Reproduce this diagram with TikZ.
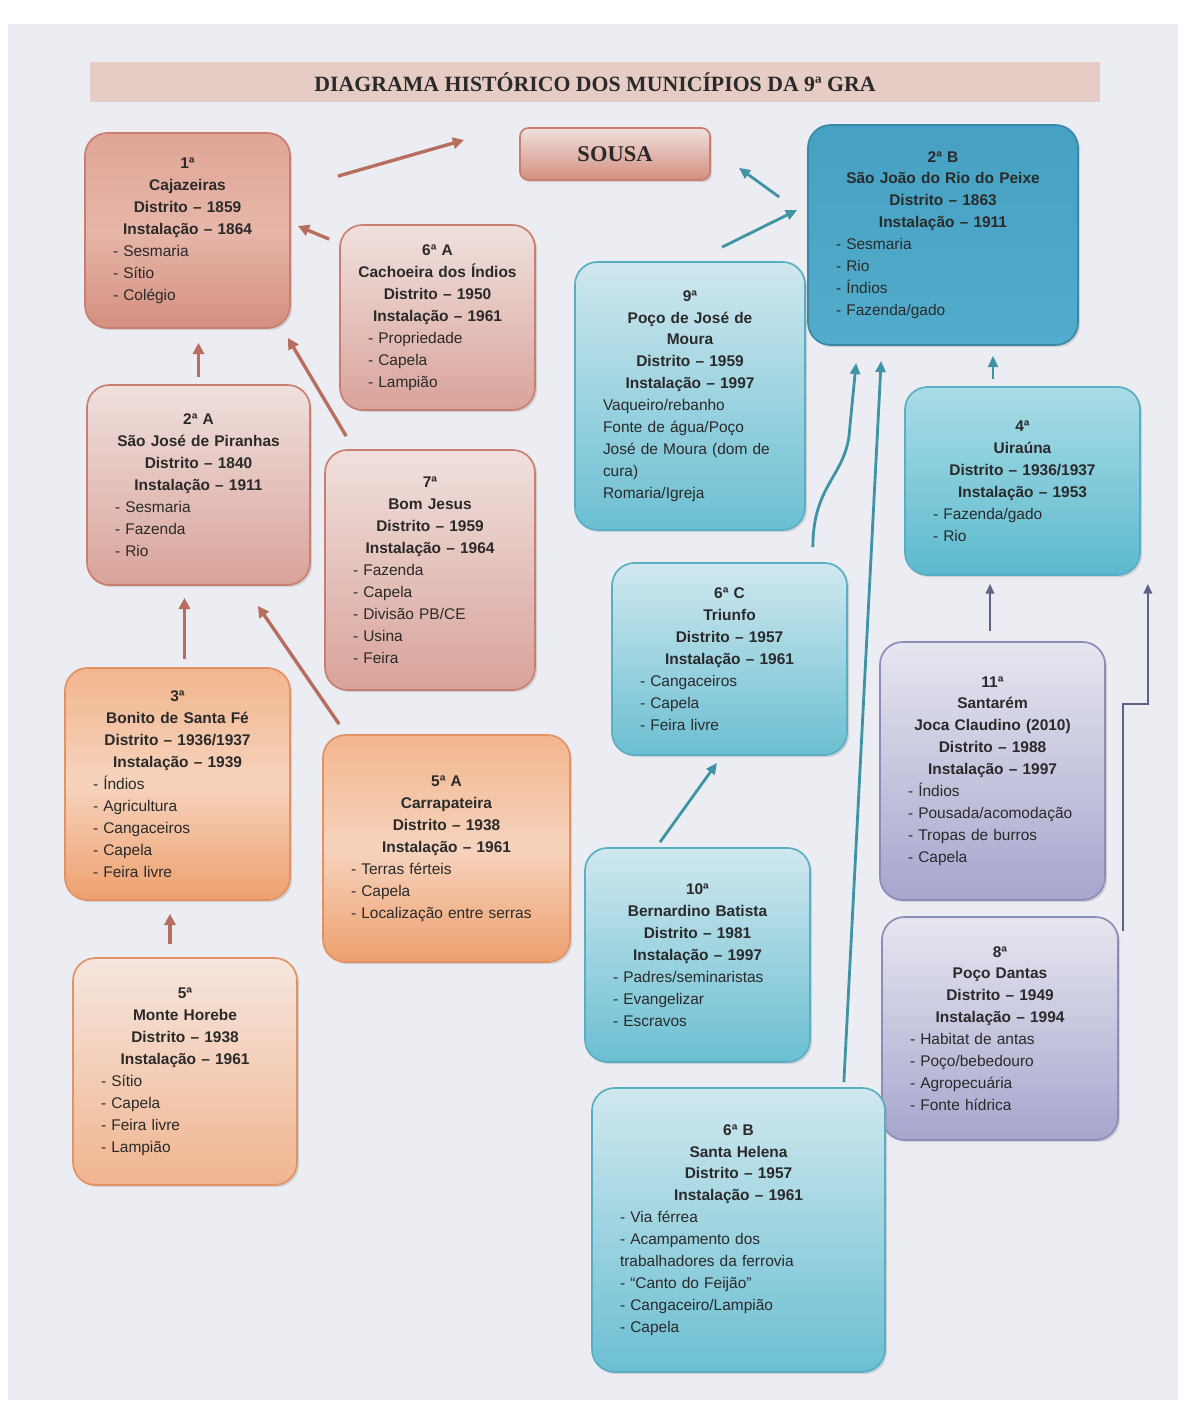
\documentclass[tikz,border=0pt]{standalone}
\usepackage{fontspec}
\setmainfont{Liberation Sans}
\newfontfamily\titlefont{Liberation Serif}
\usepackage{tikz}
\usetikzlibrary{arrows.meta,calc,shadows}
\definecolor{paper}{HTML}{ECEDF2}
\definecolor{textgray}{HTML}{2A2A2A}
\definecolor{titlepink}{HTML}{E6CCC4}
\definecolor{cajtop}{HTML}{E0A596}
\definecolor{cajmid}{HTML}{E6B6A8}
\definecolor{cajbot}{HTML}{D48F7F}
\definecolor{redtop}{HTML}{F0E0DD}
\definecolor{redbot}{HTML}{D9A39A}
\definecolor{redline}{HTML}{C97F70}
\definecolor{orgtop}{HTML}{F2B68E}
\definecolor{orgmid}{HTML}{F6D3BD}
\definecolor{orgbot}{HTML}{EEA06E}
\definecolor{orgline}{HTML}{E39264}
\definecolor{paletop}{HTML}{F6E6DF}
\definecolor{palebot}{HTML}{F0B58F}
\definecolor{dbluetop}{HTML}{46A0C2}
\definecolor{dbluebot}{HTML}{52ADCC}
\definecolor{dblueline}{HTML}{3A88A8}
\definecolor{lbluetop}{HTML}{D0E8EF}
\definecolor{lbluebot}{HTML}{6BBFD2}
\definecolor{lblueline}{HTML}{5AAEC3}
\definecolor{mbluetop}{HTML}{AADCE6}
\definecolor{mbluebot}{HTML}{5CBACE}
\definecolor{purtop}{HTML}{E6E6F0}
\definecolor{purbot}{HTML}{A6A6CE}
\definecolor{purline}{HTML}{8C8CB8}
\definecolor{arrred}{HTML}{B86E5E}
\definecolor{arrteal}{HTML}{3E94A4}
\definecolor{arrviol}{HTML}{5E6284}
\tikzset{
  boxsize/.code 2 args={\pgfmathsetlengthmacro\boxw{#1*0.025cm}\pgfmathsetlengthmacro\boxh{#2*0.025cm}\pgfmathsetlengthmacro\boxt{(#1-36)*0.025cm}\tikzset{minimum width=\boxw, minimum height=\boxh, text width=\boxt}},
  muni/.style={rounded corners=16pt, draw, line width=1.2pt, align=left, inner sep=0pt, text=textgray, drop shadow={opacity=0.25, shadow xshift=1.5pt, shadow yshift=-1.5pt}},
  cajbox/.style={muni, draw=redline, top color=cajtop, bottom color=cajbot, middle color=cajmid},
  redbox/.style={muni, draw=redline, top color=redtop, bottom color=redbot},
  orgbox/.style={muni, draw=orgline, top color=orgtop, bottom color=orgbot, middle color=orgmid},
  palebox/.style={muni, draw=orgline, top color=paletop, bottom color=palebot},
  dbluebox/.style={muni, draw=dblueline, top color=dbluetop, bottom color=dbluebot},
  lbluebox/.style={muni, draw=lblueline, top color=lbluetop, bottom color=lbluebot},
  mbluebox/.style={muni, draw=lblueline, top color=mbluetop, bottom color=mbluebot},
  purbox/.style={muni, draw=purline, top color=purtop, bottom color=purbot},
  redarrow/.style={draw=arrred, line width=2.4pt, -{Triangle[length=8pt,width=8pt]}},
  tealarrow/.style={draw=arrteal, line width=2pt, -{Triangle[length=8pt,width=7pt]}},
  violarrow/.style={draw=arrviol, line width=1.8pt, -{Triangle[length=7pt,width=6pt]}}
}
\newcommand{\munitext}[2]{{\centering\bfseries #1\par}{\leftskip=0.25cm #2\par}}

\begin{document}
\begin{tikzpicture}[x=0.025cm, y=-0.025cm, font=\fontsize{11}{15.6}\selectfont]
  \useasboundingbox (0,0) rectangle (1184,1404);
  \fill[white] (0,0) rectangle (1184,1404);
  \fill[paper] (8,24) rectangle (1178,1400);

  % title and Sousa
  \node[fill=titlepink, minimum width=25.25cm, minimum height=1cm, text=textgray, font=\titlefont\bfseries\fontsize{15.5}{18}\selectfont] (title) at (595,82) {DIAGRAMA HISTÓRICO DOS MUNICÍPIOS DA 9ª GRA};
  \node[draw=redline, line width=1.2pt, rounded corners=6pt, top color=redtop, bottom color=cajbot, minimum width=4.75cm, minimum height=1.3cm, text=textgray, font=\titlefont\bfseries\fontsize{16}{18}\selectfont, drop shadow={opacity=0.25, shadow xshift=1.5pt, shadow yshift=-1.5pt}] (sousa) at (615,154) {SOUSA};

  % left side
  \node[cajbox, boxsize={205}{195}] (cajaz) at (187.5,230.5) {\munitext{1ª\\Cajazeiras\\Distrito – 1859\\Instalação – 1864}{- Sesmaria\\- Sítio\\- Colégio}};
  \node[redbox, boxsize={195}{185}] (cacho) at (437.5,317.5) {\munitext{6ª A\\Cachoeira dos Índios\\Distrito – 1950\\Instalação – 1961}{- Propriedade\\- Capela\\- Lampião}};
  \node[redbox, boxsize={223}{200}] (sjp) at (198.5,485) {\munitext{2ª A\\São José de Piranhas\\Distrito – 1840\\Instalação – 1911}{- Sesmaria\\- Fazenda\\- Rio}};
  \node[redbox, boxsize={210}{240}] (bomjesus) at (430,570) {\munitext{7ª\\Bom Jesus\\Distrito – 1959\\Instalação – 1964}{- Fazenda\\- Capela\\- Divisão PB/CE\\- Usina\\- Feira}};
  \node[orgbox, boxsize={225}{232}] (bonito) at (177.5,784) {\munitext{3ª\\Bonito de Santa Fé\\Distrito – 1936/1937\\Instalação – 1939}{- Índios\\- Agricultura\\- Cangaceiros\\- Capela\\- Feira livre}};
  \node[orgbox, boxsize={247}{227}] (carrap) at (446.5,848.5) {\munitext{5ª A\\Carrapateira\\Distrito – 1938\\Instalação – 1961}{- Terras férteis\\- Capela\\- Localização entre serras}};
  \node[palebox, boxsize={224}{227}] (monteh) at (185,1071.5) {\munitext{5ª\\Monte Horebe\\Distrito – 1938\\Instalação – 1961}{- Sítio\\- Capela\\- Feira livre\\- Lampião}};

  % right side
  \node[dbluebox, boxsize={270}{220}] (sjrp) at (943,235) {\munitext{2ª B\\São João do Rio do Peixe\\Distrito – 1863\\Instalação – 1911}{- Sesmaria\\- Rio\\- Índios\\- Fazenda/gado}};
  \node[lbluebox, boxsize={230}{268}] (pocojm) at (690,396) {\munitext{9ª\\Poço de José de\\Moura\\Distrito – 1959\\Instalação – 1997}{Vaqueiro/rebanho\\Fonte de água/Poço\\José de Moura (dom de\\cura)\\Romaria/Igreja}};
  \node[mbluebox, boxsize={235}{188}] (uirauna) at (1022.5,481) {\munitext{4ª\\Uiraúna\\Distrito – 1936/1937\\Instalação – 1953}{- Fazenda/gado\\- Rio}};
  \node[lbluebox, boxsize={235}{192}] (triunfo) at (729.5,659) {\munitext{6ª C\\Triunfo\\Distrito – 1957\\Instalação – 1961}{- Cangaceiros\\- Capela\\- Feira livre}};
  \node[purbox, boxsize={225}{258}] (santarem) at (992.5,771) {\munitext{11ª\\Santarém\\Joca Claudino (2010)\\Distrito – 1988\\Instalação – 1997}{- Índios\\- Pousada/acomodação\\- Tropas de burros\\- Capela}};
  \node[lbluebox, boxsize={225}{214}] (bernard) at (697.5,955) {\munitext{10ª\\Bernardino Batista\\Distrito – 1981\\Instalação – 1997}{- Padres/seminaristas\\- Evangelizar\\- Escravos}};
  \node[purbox, boxsize={236}{223}] (pocod) at (1000,1028.5) {\munitext{8ª\\Poço Dantas\\Distrito – 1949\\Instalação – 1994}{- Habitat de antas\\- Poço/bebedouro\\- Agropecuária\\- Fonte hídrica}};
  \node[lbluebox, boxsize={293}{284}] (santah) at (738.5,1230) {\munitext{6ª B\\Santa Helena\\Distrito – 1957\\Instalação – 1961}{- Via férrea\\- Acampamento dos\\trabalhadores da ferrovia\\- “Canto do Feijão”\\- Cangaceiro/Lampião\\- Capela}};

  % connectors, left
  \draw[redarrow] ($(cajaz.north east)+(47,44)$) -- ($(sousa.west)+(-55,-14)$);
  \draw[redarrow] ($(cacho.north west)+(-10,15)$) -- ($(cajaz.east)+(7,-4.5)$);
  \draw[redarrow] ($(sjp.north)+(0,-7)$) -- ($(sjp.north |- cajaz.south)+(0,14)$);
  \draw[redarrow] ($(bomjesus.north west)+(22,-13)$) -- ($(cajaz.south east)+(-3,9)$);
  \draw[redarrow] ($(bonito.north)+(7,-8)$) -- ($(bonito.north |- sjp.south)+(7,12)$);
  \draw[redarrow] ($(carrap.north west)+(17,-10)$) -- ($(sjp.south east)+(-53,20)$);
  \draw[redarrow] ($(monteh.north)+(-15,-13)$) -- ($(monteh.north |- bonito.south)+(-15,13)$);

  % connectors, right
  \draw[tealarrow] ($(sjrp.west)+(-28,-38)$) -- ($(sousa.south east)+(28,-13)$);
  \draw[tealarrow] ($(pocojm.north)+(32,-14)$) -- ($(sjrp.west)+(-10,-25)$);
  \draw[tealarrow] ($(uirauna.north)+(-29.5,-7)$) -- ($(uirauna.north |- sjrp.south)+(-29.5,10)$);
  \draw[tealarrow] ($(triunfo.north east)+(-35,-15)$) .. controls +(0,-60) and +(-6,40) .. ($(triunfo.north east)+(1,-125)$) -- ($(sjrp.south west)+(49,17)$);
  \draw[tealarrow] ($(santah.north east)+(-42,-5)$) -- ($(sjrp.south west)+(74,15)$);
  \draw[tealarrow] ($(bernard.north)+(-37.5,-5)$) -- ($(triunfo.south)+(-12.5,7)$);
  \draw[violarrow] ($(santarem.north)+(-2.5,-10)$) -- ($(santarem.north |- uirauna.south)+(-2.5,8)$);
  \draw[violarrow] ($(pocod.north east)+(4,15)$) -- ++(0,-227) -| ($(uirauna.south east)+(7,8)$);
\end{tikzpicture}
\end{document}
